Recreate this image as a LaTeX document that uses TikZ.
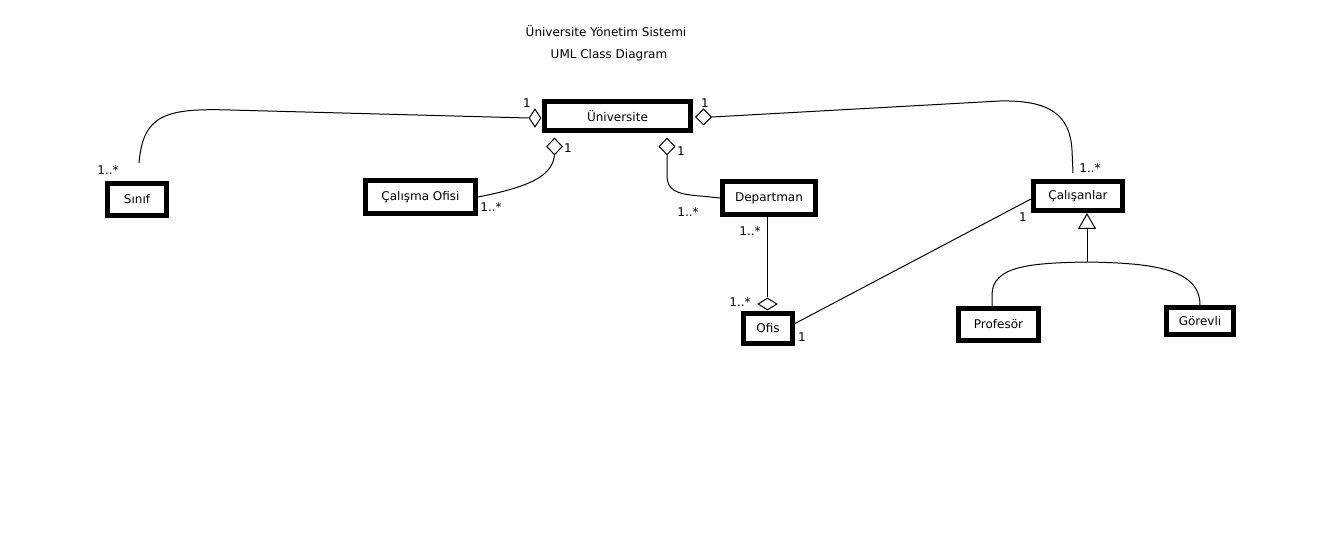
\documentclass[tikz,border=0pt]{standalone}
\usepackage{fontspec}
\setmainfont{DejaVu Sans}
\usepackage{tikz}
\usetikzlibrary{shapes.geometric, arrows.meta}

\begin{document}
\begin{tikzpicture}[x=0.75pt, y=-0.75pt,
			font=\fontsize{9}{11}\selectfont,
			line width=0.75pt,
			classbox/.style={draw=black, line width=3.75pt, inner sep=0pt, fill=white},
			aggr/.style={diamond, draw=black, line width=0.75pt, inner sep=0pt, fill=white},
			mult/.style={inner sep=0pt}]
			
			\path[use as bounding box, fill=white] (0,0) rectangle (1340,548);
			
			% title
			\node[mult] (title) at (606,31) {Üniversite Yönetim Sistemi};
			\node[mult] (subtitle) at (609,55) {UML Class Diagram};
			
			% classes
			\node[classbox, minimum width=109.5pt, minimum height=21.75pt] (univ) at (617.5,116) {Üniversite};
			\node[classbox, minimum width=44.25pt, minimum height=24pt] (sinif) at (137,199.5) {Sınıf};
			\node[classbox, minimum width=82.5pt, minimum height=24.75pt] (calofis) at (420.5,197) {Çalışma Ofisi};
			\node[classbox, minimum width=69.75pt, minimum height=24.75pt] (dept) at (769,198) {Departman};
			\node[classbox, minimum width=36.75pt, minimum height=22.5pt] (ofis) at (768,328.5) {Ofis};
			\node[classbox, minimum width=66.75pt, minimum height=21.75pt] (calis) at (1078,196) {Çalışanlar};
			\node[classbox, minimum width=60pt, minimum height=24pt] (prof) at (998.5,324.5) {Profesör};
			\node[classbox, minimum width=50.25pt, minimum height=20.25pt] (gorev) at (1200,321) {Görevli};
			
			% aggregation diamonds
			\node[aggr, minimum width=9pt, minimum height=13.5pt] (agsinif) at (535,118) {};
			\node[aggr, minimum width=12pt, minimum height=12pt] (agcalis) at (703.5,117) {};
			\node[aggr, minimum width=12pt, minimum height=12.5pt] (agofisi) at (554.5,146.5) {};
			\node[aggr, minimum width=12pt, minimum height=12.5pt] (agdept) at (667,146.5) {};
			\node[aggr, minimum width=14.25pt, minimum height=9pt] (agofis) at (767.5,304) {};
			
			\coordinate (sinifend) at (139,163);
			\coordinate (calisend) at (1073,173);
			\coordinate (split) at (1087,262);
			
			% connectors
			\draw (agsinif.west) -- (230,110) .. controls (165,108) and (143,115) .. (sinifend);
			\draw (agofisi.south) .. controls (552,172) and (540,185) .. (calofis.east);
			\draw (agdept.south) -- (667,175) .. controls (667,190) and (675,194) .. (700,196) -- (dept.west);
			\draw (agofis.north) -- (agofis.north |- dept.south);
			\draw ([yshift=3.75pt]ofis.east) -- ([yshift=-2.25pt]calis.west);
			\draw (agcalis.east) -- (1000,101) .. controls (1050,100) and (1070,115) .. (1072,150) -- (calisend);
			
			% generalization
			\draw[-{Triangle[open, length=12pt, width=13.5pt]}] (split) -- (split |- calis.south);
			\draw (split) .. controls (1030,263) and (992,266) .. (992,295) -- (992,295 |- prof.north);
			\draw (split) .. controls (1150,263) and (1200,268) .. (gorev.north);
			
			% multiplicities
			\node[mult] (m1) at (527,103) {1};
			\node[mult] (m2) at (108,170) {1..*};
			\node[mult] (m3) at (568,148) {1};
			\node[mult] (m4) at (491,207) {1..*};
			\node[mult] (m5) at (681,151) {1};
			\node[mult] (m6) at (688,212) {1..*};
			\node[mult] (m7) at (750,231) {1..*};
			\node[mult] (m8) at (740,302) {1..*};
			\node[mult] (m9) at (802,337) {1};
			\node[mult] (m10) at (1023,217) {1};
			\node[mult] (m11) at (705,103) {1};
			\node[mult] (m12) at (1090,168) {1..*};
		\end{tikzpicture}
\end{document}
